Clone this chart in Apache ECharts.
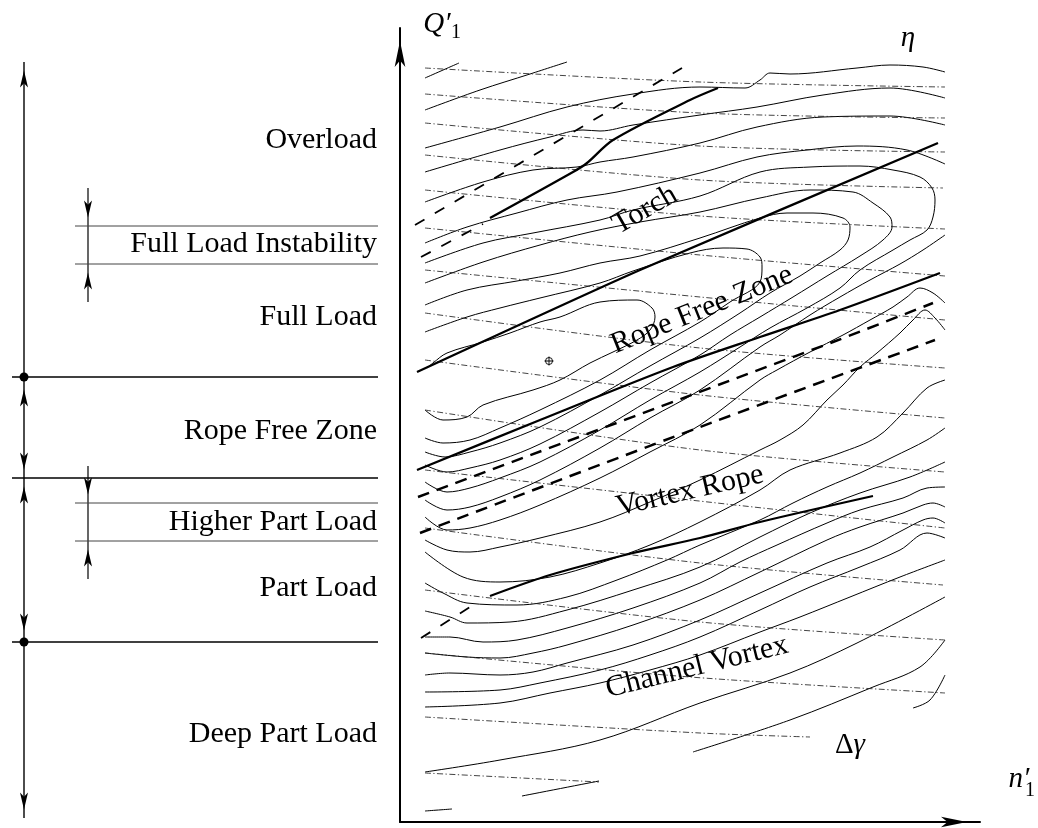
<!DOCTYPE html>
<html><head><meta charset="utf-8">
<script src="https://cdn.jsdelivr.net/npm/echarts@6/dist/echarts.min.js"></script>
<style>html,body{margin:0;padding:0;background:#fff}#c{width:1038px;height:828px}</style>
</head><body><div id="c"></div>
<script>
// ---------- DATA (n1' , Q1' in arbitrary diagram units) ----------
// efficiency contours (eta)
const etaC1 = [[25,744],[59,759]];
const etaC2 = [[25,712],[80,732],[130,748],[167,760]];
const etaC3 = [[25,674],[100,695],[167,715],[233,728],[300,735],[345,734],[360,742],[370,749],[390,748],[457,754],[490,757],[523,755],[545,750]];
const etaC4 = [[25,650],[100,672],[150,685],[183,692],[200,691],[233,697],[300,707],[357,715],[423,727],[490,734],[545,724]];
const etaC5 = [[25,620],[83,640],[133,652],[177,655],[200,660],[233,665],[300,679],[357,695],[423,705],[490,706],[545,697]];
const etaC6 = [[25,579],[67,595],[117,609],[167,622],[217,630],[300,649],[357,665],[407,672],[457,676],[507,672],[545,658]];
const etaC7 = [[25,559],[83,579],[133,589],[200,602],[233,612],[300,626],[360,650],[410,655],[460,656],[493,652],[520,645],[532,634],[535,622],[533,605],[527,592],[510,582],[493,572],[460,552],[440,534],[407,514],[370,494],[340,475],[300,450],[250,422],[200,392],[140,360],[100,344],[70,334],[47,330],[25,340]];
const etaL2 = [[25,539],[83,560],[140,577],[190,590],[240,600],[300,610],[360,624],[410,632],[453,630],[473,619],[490,605],[492,595],[483,582],[460,566],[427,546],[393,525],[360,505],[330,487],[300,467],[250,439],[200,410],[140,378],[100,362],[70,354],[47,350],[25,357]];
const etaL1b = [[25,517],[67,532],[117,541],[160,549],[200,559],[240,566],[300,584],[360,604],[387,609],[413,609],[443,604],[450,595],[448,582],[440,572],[420,559],[400,546],[370,529],[340,509],[300,484],[250,456],[200,427],[140,395],[100,379],[70,370],[45,365],[25,370]];
const etaL1 = [[25,490],[67,505],[100,514],[140,524],[200,539],[233,551],[290,569],[323,574],[347,573],[360,565],[362,555],[360,540],[330,520],[300,500],[250,472],[200,442],[140,412],[100,394],[70,382],[43,379],[25,384]];
const etaL0 = [[27,454],[33,459],[47,469],[83,480],[110,489],[140,500],[160,505],[200,520],[237,522],[252,514],[255,505],[250,492],[237,482],[213,470],[190,459],[160,442],[133,432],[83,417],[67,405],[43,402],[25,412]];
const etaC6low = [[545,587],[523,572],[500,558],[470,542],[440,525],[410,507],[380,487],[360,475],[300,432],[250,404],[200,374],[140,342],[100,325],[70,315],[47,312],[25,322]];
const etaA = [[545,519],[533,529],[520,534],[507,525],[493,515],[470,502],[443,487],[410,470],[377,452],[360,442],[300,397],[250,370],[200,344],[140,317],[100,302],[70,294],[47,292],[25,305]];
const etaB = [[545,492],[535,504],[525,512],[513,502],[500,489],[477,469],[460,455],[443,437],[427,422],[403,397],[380,382],[360,372],[300,342],[250,320],[200,300],[140,284],[100,275],[70,270],[47,272],[25,282]];
const etaRa = [[545,442],[527,434],[503,409],[477,385],[440,369],[390,352],[360,332],[300,300],[250,277],[200,259],[150,245],[100,240],[63,245],[25,270]];
const etaRb = [[545,394],[527,382],[493,365],[460,349],[427,335],[393,319],[360,302],[300,277],[267,262],[217,242],[167,225],[117,217],[67,219],[43,229],[25,239]];
const etaRc = [[545,360],[510,345],[460,329],[410,309],[360,285],[300,255],[233,232],[167,212],[110,200],[67,199],[50,205],[25,211]];
const etaRd = [[545,335],[527,334],[503,324],[460,312],[427,299],[377,277],[340,260],[300,239],[233,214],[167,194],[117,182],[83,180],[50,185],[25,185]];
const etaRe = [[545,315],[533,319],[523,317],[503,309],[460,295],[427,282],[360,250],[300,222],[233,197],[167,177],[133,169],[100,164],[67,165],[25,169]];
const etaRf = [[545,299],[533,304],[523,302],[503,292],[470,275],[427,259],[360,229],[300,202],[233,177],[167,159],[133,150],[100,147],[50,149],[25,147]];
const etaRg = [[545,284],[527,289],[500,272],[460,255],[410,235],[360,212],[300,185],[250,167],[200,152],[140,139],[100,132],[25,130]];
const etaRh = [[545,262],[500,245],[450,225],[400,205],[360,190],[300,167],[250,152],[200,139],[150,129],[100,119],[25,115]];
const etaRi = [[25,50],[100,62],[200,82],[300,119],[390,149],[457,179],[545,225]];
const etaRj = [[293,70],[390,102],[473,135],[520,155],[545,182]];
const etaRk = [[513,114],[530,122],[545,147]];
const etaS1 = [[122,26],[199,41]];
const etaS2 = [[25,11],[52,13]];

// guide vane opening lines (delta gamma)
const gv1 = [[25,754],[300,740],[545,735]];
const gv2 = [[25,728],[300,709],[545,704]];
const gv3 = [[25,699],[300,676],[545,670]];
const gv4 = [[25,667],[300,642],[543,634]];
const gv5 = [[25,632],[300,606],[545,593]];
const gv6 = [[25,594],[300,567],[545,546]];
const gv7 = [[25,552],[300,525],[545,502]];
const gv8 = [[25,509],[300,474],[545,454]];
const gv9 = [[25,462],[300,427],[545,404]];
const gv10 = [[25,412],[300,372],[545,350]];
const gv11 = [[25,352],[290,322],[545,294]];
const gv12 = [[25,294],[300,259],[543,237]];
const gv13 = [[25,232],[300,200],[545,182]];
const gv14 = [[25,169],[290,145],[545,129]];
const gv15 = [[25,105],[300,89],[410,85]];
const gv16 = [[25,49],[199,40]];

// zone boundary lines
const torchDashed = [[15,597],[282,754]];
const torchDashStart = [[21,565],[83,598]];
const torchSolid = [[90,604],[173,650],[187,659],[213,682],[290,722],[318,734]];
const ropeFreeUpper = [[17,450],[240,552],[538,679]];
const ropeFreeLower = [[17,352],[140,402],[273,455],[360,485],[440,512],[540,549]];
const ropeDashUpper = [[18,325],[433,480],[533,519]];
const ropeDashLower = [[20,289],[300,395],[535,482]];
const vortexDashStart = [[21,184],[78,220]];
const vortexSolid = [[90,226],[150,247],[233,269],[300,284],[360,300],[473,326]];
const bestPoint = [[149,461]];

// in-plot labels: text, n1', Q1', angle
const plotLabels = [['Torch',245,612,30],['Rope Free Zone',302,512,22],['Vortex Rope',290,331,13],['Channel Vortex',297,155,14]];

// left panel (operating ranges)
const rangeBoundaries = [445, 344, 180];
const subBoundaries = [596, 558, 319, 281];
const rangeLabels = [['Overload',682],['Full Load Instability',578],['Full Load',505],['Rope Free Zone',391],['Higher Part Load',300],['Part Load',234],['Deep Part Load',88]];
const mainScale = [[24,760],[24,4]];
const subScaleA = [[88,634],[88,520]];
const subScaleB = [[88,356],[88,243]];
const upTips = [[24,760],[24,441],[24,344],[88,558],[88,281]];
const downTips = [[24,344],[24,183],[24,4],[88,596],[88,319]];
const dots = [[24,445],[24,180]];

// ---------- CHART ----------
const FONT = "'Liberation Serif','DejaVu Serif',serif";
const series = [];
function addLine(data, lineStyle, smooth, g) {
  series.push({type:'line', data, xAxisIndex:g||0, yAxisIndex:g||0, symbol:'none', silent:true,
    smooth: smooth||false, lineStyle, z: lineStyle.z || 2});
}
const contourStyle = {color:'#000', width:1};
[etaC1,etaC2,etaC3,etaC4,etaC5,etaC6,etaC7,etaL2,etaL1b,etaL1,etaL0,etaC6low,etaA,etaB,etaRa,etaRb,etaRc,etaRd,etaRe,etaRf,etaRg,etaRh,etaRi,etaRj,etaRk,etaS1,etaS2]
  .forEach(d => addLine(d, contourStyle, 0.35));
const gvStyle = {color:'#222', width:0.85, type:[6,2.5,1.3,2.5]};
[gv1,gv2,gv3,gv4,gv5,gv6,gv7,gv8,gv9,gv10,gv11,gv12,gv13,gv14,gv15,gv16].forEach(d => addLine(d, gvStyle, 0.3));
const thick = {color:'#000', width:2.3, z:3};
const dashed = {color:'#000', width:2.5, type:[12,8], z:3};
const dashedT = {color:'#000', width:1.8, type:[11,12], z:3};
addLine(torchDashed, dashedT, false);
addLine(torchDashStart, dashedT, false);
addLine(torchSolid, thick, 0.3);
addLine(ropeFreeUpper, thick, 0.2);
addLine(ropeFreeLower, thick, 0.3);
addLine(ropeDashUpper, dashed, 0.2);
addLine(ropeDashLower, dashed, 0.2);
addLine(vortexDashStart, dashedT, false);
addLine(vortexSolid, thick, 0.3);

const solidItem = {color:'#000', opacity:1};
series.push({type:'scatter', xAxisIndex:0, yAxisIndex:0, data:bestPoint, symbol:'circle', symbolSize:7,
  itemStyle:{color:'#fff', borderColor:'#000', borderWidth:0.9, opacity:1}, silent:true, z:4});
series.push({type:'scatter', xAxisIndex:0, yAxisIndex:0, data:bestPoint,
  symbol:'path://M-0.1,-1H0.1V-0.1H1V0.1H0.1V1H-0.1V0.1H-1V-0.1H-0.1Z', symbolSize:9,
  itemStyle:solidItem, silent:true, z:5});

const txt = {fontFamily:FONT, color:'#000', fontSize:30, opacity:1, textBorderWidth:0};
const hiddenItem = {opacity:1, color:'#000'};
series.push({type:'scatter', xAxisIndex:0, yAxisIndex:0, symbolSize:0, clip:false, silent:true, z:5, itemStyle:hiddenItem,
  data: plotLabels.map(([t,x,y,r]) => ({value:[x,y], label:Object.assign({show:true, formatter:t, rotate:r, position:'inside'}, txt)}))});
// axis symbols / quantity names
series.push({type:'scatter', xAxisIndex:0, yAxisIndex:0, symbolSize:0, clip:false, silent:true, z:5, itemStyle:hiddenItem,
  data:[
    {value:[37,798], label:Object.assign({show:true, position:'inside', formatter:'Q′'}, txt, {fontStyle:'italic', fontSize:29})},
    {value:[56,789], label:Object.assign({show:true, position:'inside', formatter:'1'}, txt, {fontSize:20})},
    {value:[508,784], label:Object.assign({show:true, position:'inside', formatter:'η'}, txt, {fontStyle:'italic', fontSize:29})},
    {value:[619,43], label:Object.assign({show:true, position:'inside', formatter:'n′'}, txt, {fontStyle:'italic', fontSize:29})},
    {value:[630,31], label:Object.assign({show:true, position:'inside', formatter:'1'}, txt, {fontSize:20})},
    {value:[450,77], label:Object.assign({show:true, position:'inside', formatter:'{u|Δ}{i|γ}',
        rich:{u:{fontFamily:FONT, fontSize:29, color:'#000'}, i:{fontFamily:FONT, fontSize:29, fontStyle:'italic', color:'#000'}}}, txt)}
  ]});

// left panel
addLine(mainScale, {color:'#000', width:1.4}, false, 1);
addLine(subScaleA, {color:'#000', width:1.2}, false, 1);
addLine(subScaleB, {color:'#000', width:1.2}, false, 1);
rangeBoundaries.forEach(y => addLine([[12,y],[378,y]], {color:'#000', width:1.3}, false, 1));
subBoundaries.forEach(y => addLine([[75,y],[378,y]], {color:'#444', width:1}, false, 1));
series.push({type:'scatter', xAxisIndex:1, yAxisIndex:1, data:upTips, symbol:'arrow', symbolSize:[6,17],
  symbolOffset:[0,8.5], itemStyle:solidItem, silent:true, z:4});
series.push({type:'scatter', xAxisIndex:1, yAxisIndex:1, data:downTips, symbol:'arrow', symbolSize:[6,17],
  symbolRotate:180, symbolOffset:[0,-8.5], itemStyle:solidItem, silent:true, z:4});
series.push({type:'scatter', xAxisIndex:1, yAxisIndex:1, data:dots, symbol:'circle', symbolSize:9,
  itemStyle:solidItem, silent:true, z:5});
series.push({type:'scatter', xAxisIndex:1, yAxisIndex:1, symbolSize:0, clip:false, silent:true, z:5, itemStyle:hiddenItem,
  data: rangeLabels.map(([t,y]) => ({value:[377,y], label:Object.assign({show:true, formatter:t, position:'left', distance:0}, txt)}))});

function hiddenAxis(g, max) {
  return {type:'value', gridIndex:g, min:0, max, show:false};
}
const mainAxisLine = {show:true, onZero:false, symbol:['none','arrow'], symbolSize:[8,26], symbolOffset:[0,-13],
  lineStyle:{color:'#000', width:2}};
const option = {
  animation:false,
  backgroundColor:'#fff',
  grid:[{left:400, top:28, width:580, height:794}, {left:0, top:28, width:400, height:794}],
  xAxis:[
    {type:'value', gridIndex:0, min:0, max:580, axisLine:mainAxisLine, axisTick:{show:false}, axisLabel:{show:false}, splitLine:{show:false}},
    hiddenAxis(1, 400)
  ],
  yAxis:[
    {type:'value', gridIndex:0, min:0, max:794, axisLine:mainAxisLine, axisTick:{show:false}, axisLabel:{show:false}, splitLine:{show:false}},
    hiddenAxis(1, 794)
  ],
  series
};
const chart = echarts.init(document.getElementById('c'), null, {renderer:'canvas'});
chart.setOption(option);
</script></body></html>
